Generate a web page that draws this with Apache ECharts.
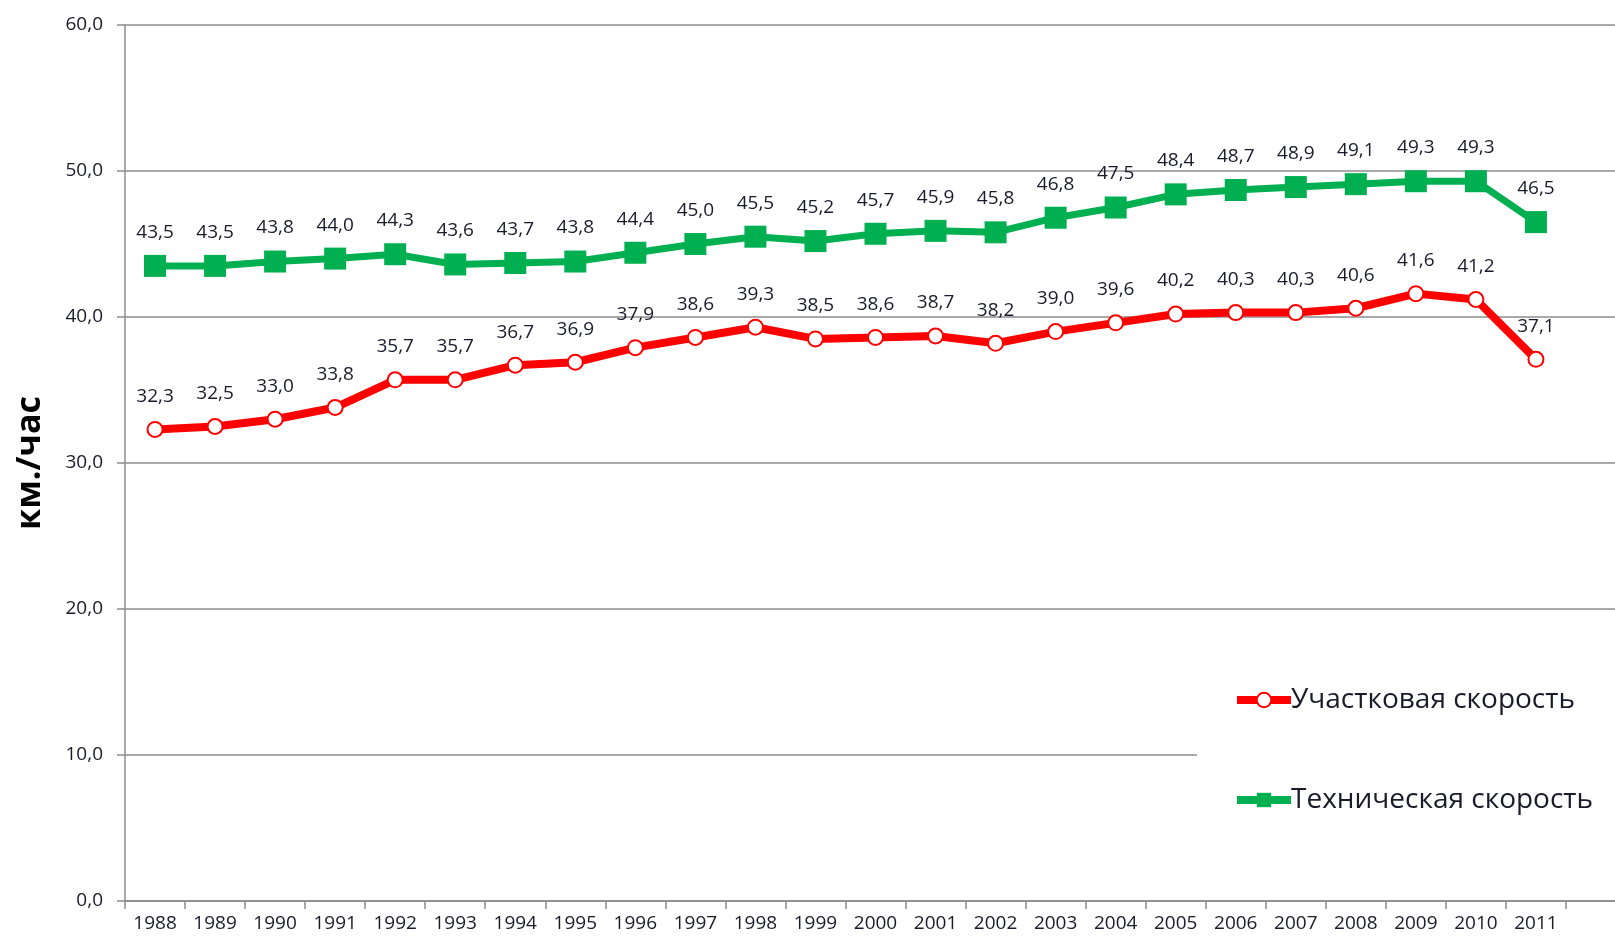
<!DOCTYPE html>
<html>
<head>
<meta charset="utf-8">
<script src="https://cdn.jsdelivr.net/npm/echarts@6/dist/echarts.min.js"></script>
<style>
  html, body { margin: 0; padding: 0; background: #fff; overflow: hidden; }
  /* контейнер шире окна: последний пустой слот оси уходит за край, как на оригинале */
  #chart { width: 1626px; height: 941px; }
</style>
</head>
<body>
<div id="chart"></div>
<script>
// годы и значения скоростей
var years = ['1988','1989','1990','1991','1992','1993','1994','1995','1996','1997','1998','1999',
             '2000','2001','2002','2003','2004','2005','2006','2007','2008','2009','2010','2011'];
var uchastkovaya = [32.3,32.5,33.0,33.8,35.7,35.7,36.7,36.9,37.9,38.6,39.3,38.5,
                    38.6,38.7,38.2,39.0,39.6,40.2,40.3,40.3,40.6,41.6,41.2,37.1];
var tekhnicheskaya = [43.5,43.5,43.8,44.0,44.3,43.6,43.7,43.8,44.4,45.0,45.5,45.2,
                      45.7,45.9,45.8,46.8,47.5,48.4,48.7,48.9,49.1,49.3,49.3,46.5];
var yTicks = [0, 10, 20, 30, 40, 50, 60];

var fontName = '"Open Sans", "Noto Sans", sans-serif';
function comma(v) { return v.toFixed(1).replace('.', ','); }

var chart = echarts.init(document.getElementById('chart'));
chart.setOption({
  animation: false,
  backgroundColor: '#fff',
  textStyle: { fontFamily: fontName },
  grid: { left: 125, top: 25, right: 0, bottom: 40 },
  legend: {
    orient: 'vertical',
    left: 1197,
    top: 672,
    width: 440,
    height: 160,
    padding: [14, 60, 14, 36],
    backgroundColor: '#fff',
    itemGap: 72,
    itemWidth: 54,
    itemHeight: 18,
    lineStyle: { width: 8 },
    textStyle: { fontSize: 28, color: '#1a1a2a', fontFamily: fontName, padding: [0, 0, 0, -5] },
    data: ['Участковая скорость', 'Техническая скорость']
  },
  xAxis: {
    type: 'category',
    data: years.concat(['']),
    boundaryGap: true,
    axisLine: { lineStyle: { color: '#8c8c8c', width: 1.5 } },
    axisTick: { show: true, length: 8, lineStyle: { color: '#8c8c8c', width: 1.5 } },
    axisLabel: { fontSize: 19, color: '#1a1a2a', margin: 13 }
  },
  yAxis: {
    type: 'value',
    min: yTicks[0],
    max: yTicks[yTicks.length - 1],
    interval: 10,
    name: 'км./час',
    nameLocation: 'middle',
    nameGap: 78,
    nameTextStyle: { fontSize: 34, fontWeight: 'bold', color: '#000', fontFamily: fontName },
    axisLine: { show: true, lineStyle: { color: '#8c8c8c', width: 1.5 } },
    axisTick: { show: true, length: 8, lineStyle: { color: '#8c8c8c', width: 1.5 } },
    axisLabel: {
      fontSize: 19, color: '#1a1a2a', margin: 22,
      formatter: function (v) { return comma(v); }
    },
    splitLine: { lineStyle: { color: '#8c8c8c', width: 1.5 } }
  },
  series: [
    {
      name: 'Участковая скорость',
      type: 'line',
      data: uchastkovaya,
      symbol: 'circle',
      symbolSize: 15,
      z: 3,
      itemStyle: { color: '#fff', borderColor: '#ff0000', borderWidth: 2 },
      lineStyle: { color: '#ff0000', width: 8 },
      label: {
        show: true, position: 'top', distance: 15,
        fontSize: 19, color: '#1a1a2a',
        formatter: function (p) { return comma(p.value); }
      }
    },
    {
      name: 'Техническая скорость',
      type: 'line',
      data: tekhnicheskaya,
      symbol: 'rect',
      symbolSize: 22,
      z: 3,
      itemStyle: { color: '#00b050', borderWidth: 0 },
      lineStyle: { color: '#00b050', width: 7 },
      label: {
        show: true, position: 'top', distance: 13,
        fontSize: 19, color: '#1a1a2a',
        formatter: function (p) { return comma(p.value); }
      }
    }
  ]
});
</script>
</body>
</html>
